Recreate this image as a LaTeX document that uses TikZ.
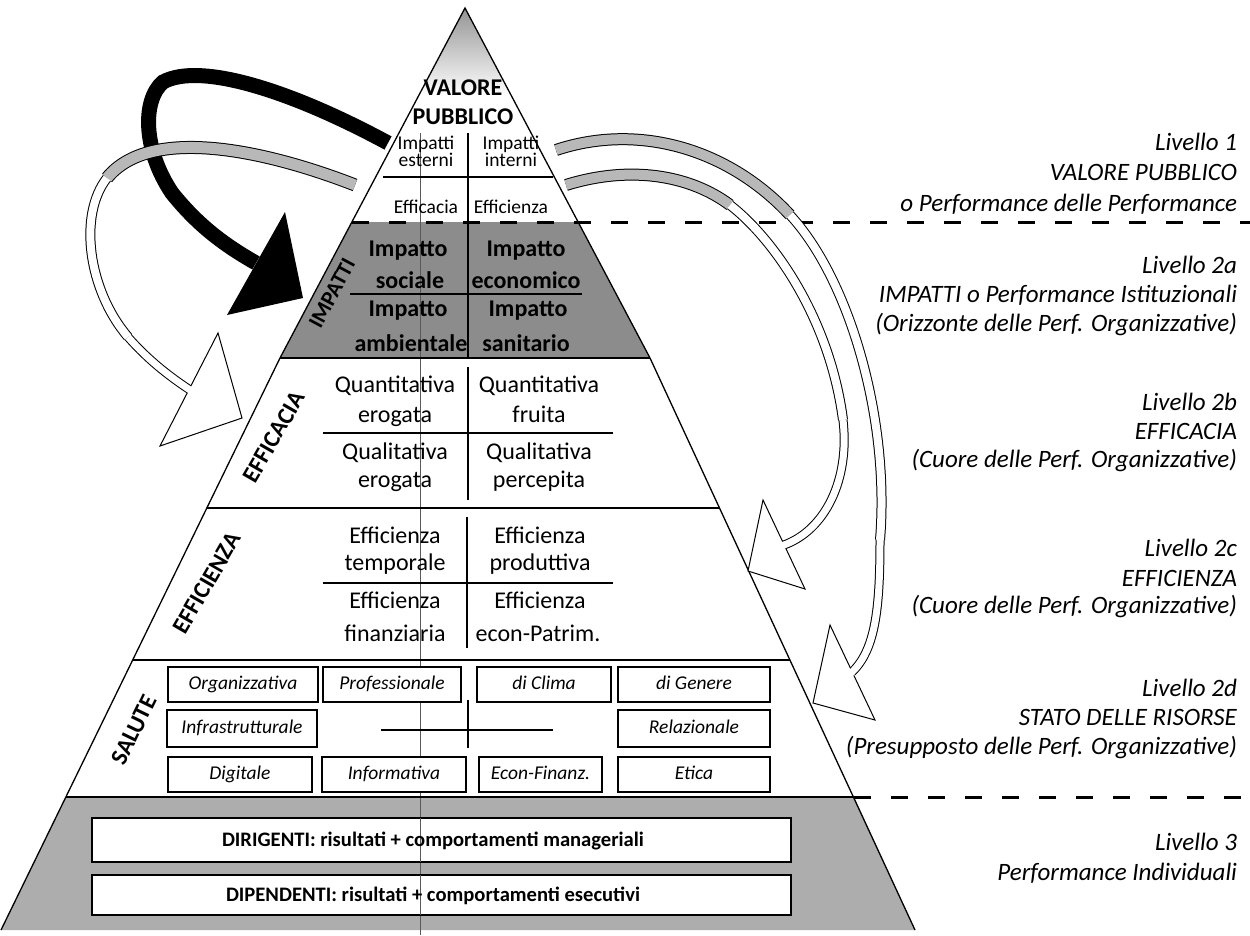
\documentclass[tikz,border=0pt]{standalone}
\usepackage{fontspec}
\setmainfont{Carlito}
\begin{document}
\begin{tikzpicture}[x=1pt,y=-1pt,
  every node/.style={inner sep=0pt,outer sep=0pt},
  t19/.style={font=\fontsize{19.5}{19.5}\selectfont,anchor=base},
  t24/.style={font=\fontsize{24}{24}\selectfont,anchor=base},
  b24/.style={font=\fontsize{24}{24}\selectfont\bfseries,anchor=base},
  side/.style={font=\fontsize{25}{25}\selectfont\itshape,anchor=base east},
  vlab/.style={font=\fontsize{24}{24}\selectfont\bfseries},
  sbox/.style={draw,line width=1.1pt,fill=white,font=\fontsize{19.5}{19.5}\selectfont\itshape,text height=13pt,text depth=4pt},
  bbox/.style={draw,line width=1.1pt,fill=white,anchor=north west},
  btext/.style={font=\fontsize{20.6}{20.6}\selectfont\bfseries,anchor=base west},
  rule/.style={line width=1.2pt},
  edgeln/.style={line width=1.3pt},
  dashln/.style={line width=3pt,dash pattern=on 17pt off 20pt},
  guide/.style={line width=0.6pt,black!65},
  outl/.style={line width=1pt},
  graybd/.style={black!28},
]
\useasboundingbox (0,0) rectangle (1250,935);
% pyramid corners
\coordinate (apex) at (465,8);
\coordinate (lk) at (280,358);
\coordinate (rk) at (650,358);
\coordinate (lb) at (1,930);
\coordinate (rb) at (915,930);
% fills
\shade[top color=black!42,bottom color=white] (apex) -- (418.5,96) -- (511.5,96) -- cycle;
\fill[black!45] (351.9,222) -- (578.1,222) -- (rk) -- (lk) -- cycle;
\fill[black!32] (65.9,797) -- (854.1,797) -- (rb) -- (lb) -- cycle;
% guide line
\draw[guide] (420,133) -- (420,935);
% outline
\draw[edgeln] (lb) -- (lk) -- (apex) -- (rk) -- (rb);
% layer boundaries
\draw[rule] (lk) -- (rk);
\draw[rule] (206.8,508) -- (719.7,508);
\draw[rule] (132.7,660) -- (790.4,660);
\draw[line width=2.5pt] (65.9,797) -- (854.1,797);
\draw[dashln] (351.9,222) -- (1250,222);
\draw[dashln] (854.1,797) -- (1250,797);
% inner dividers
\draw[rule] (468,133) -- (468,358);
\draw[rule] (383,177) -- (553,177);
\draw[rule] (350,294) -- (582,294);
\draw[rule] (468,367) -- (468,500);
\draw[rule] (323,433) -- (613,433);
\draw[rule] (467,517) -- (467,648);
\draw[rule] (323,583) -- (613,583);
\draw[rule] (381,730) -- (553,730);
\draw[rule] (468,700) -- (468,748);
% level 1 texts
\node[b24] (v1) at (463,95) {VALORE};
\node[b24] (v2) at (463,124) {PUBBLICO};
\node[t19] (ie1) at (426,149) {Impatti};
\node[t19] (ie2) at (426,166) {esterni};
\node[t19] (ii1) at (511,149) {Impatti};
\node[t19] (ii2) at (511,166) {interni};
\node[t19] (ef1) at (426,213) {Efficacia};
\node[t19] (ef2) at (511,213) {Efficienza};
% impatti
\node[b24] (im1) at (408,256) {Impatto};
\node[b24] (im2) at (410,288) {sociale};
\node[b24] (im3) at (526,256) {Impatto};
\node[b24] (im4) at (526,288) {economico};
\node[b24] (im5) at (408,316) {Impatto};
\node[b24] (im6) at (411,351) {ambientale};
\node[b24] (im7) at (528,316) {Impatto};
\node[b24] (im8) at (526,351) {sanitario};
% efficacia
\node[t24] (q1) at (395,392) {Quantitativa};
\node[t24] (q2) at (395,422) {erogata};
\node[t24] (q3) at (539,392) {Quantitativa};
\node[t24] (q4) at (539,422) {fruita};
\node[t24] (q5) at (395,459) {Qualitativa};
\node[t24] (q6) at (395,487) {erogata};
\node[t24] (q7) at (539,459) {Qualitativa};
\node[t24] (q8) at (539,487) {percepita};
% efficienza
\node[t24] (e1) at (395,543) {Efficienza};
\node[t24] (e2) at (395,570) {temporale};
\node[t24] (e3) at (540,543) {Efficienza};
\node[t24] (e4) at (540,570) {produttiva};
\node[t24] (e5) at (395,608) {Efficienza};
\node[t24] (e6) at (395,641) {finanziaria};
\node[t24] (e7) at (540,608) {Efficienza};
\node[t24] (e8) at (538,641) {econ-Patrim.};
% rotated labels
\node[vlab,font=\fontsize{22}{22}\selectfont\bfseries,rotate=62] (lImp) at (332,293) {IMPATTI};
\node[vlab,rotate=60] (lEfc) at (274,437) {EFFICACIA};
\node[vlab,rotate=60] (lEfz) at (207,583) {EFFICIENZA};
\node[vlab,rotate=64] (lSal) at (134,730) {SALUTE};
% salute boxes
\node[sbox,minimum width=150,minimum height=35] (s1) at (243,684.5) {Organizzativa};
\node[sbox,minimum width=138,minimum height=35] (s2) at (392,684.5) {Professionale};
\node[sbox,minimum width=134,minimum height=35] (s3) at (544,684.5) {di Clima};
\node[sbox,minimum width=152,minimum height=35] (s4) at (694,684.5) {di Genere};
\node[sbox,minimum width=150,minimum height=37] (s5) at (242,728.5) {Infrastrutturale};
\node[sbox,minimum width=152,minimum height=37] (s6) at (694,728.5) {Relazionale};
\node[sbox,minimum width=144,minimum height=35] (s7) at (240,774.5) {Digitale};
\node[sbox,minimum width=144,minimum height=35] (s8) at (394,774.5) {Informativa};
\node[sbox,minimum width=123,minimum height=35] (s9) at (540.5,774.5) {Econ-Finanz.};
\node[sbox,minimum width=152,minimum height=35] (s10) at (694,774.5) {Etica};
% bottom boxes
\node[bbox,minimum width=699,minimum height=44] (d1) at (92,818) {};
\node[bbox,minimum width=699,minimum height=40] (d2) at (92,875) {};
\draw[guide] (420,818) -- (420,862);
\draw[guide] (420,875) -- (420,915);
\node[btext] (d1t) at (222,846) {DIRIGENTI: risultati + comportamenti manageriali};
\node[btext] (d2t) at (226,901) {DIPENDENTI: risultati + comportamenti esecutivi};
% right labels
\node[side] (r1a) at (1237,150) {Livello 1};
\node[side] (r1b) at (1237,180) {VALORE PUBBLICO};
\node[side] (r1c) at (1237,211) {o Performance delle Performance};
\node[side] (r2a) at (1237,273) {Livello 2a};
\node[side] (r2b) at (1237,302) {IMPATTI o Performance Istituzionali};
\node[side] (r2c) at (1237,331) {(Orizzonte delle Perf. Organizzative)};
\node[side] (r3a) at (1237,410) {Livello 2b};
\node[side] (r3b) at (1237,439) {EFFICACIA};
\node[side] (r3c) at (1237,467) {(Cuore delle Perf. Organizzative)};
\node[side] (r4a) at (1237,556) {Livello 2c};
\node[side] (r4b) at (1237,586) {EFFICIENZA};
\node[side] (r4c) at (1237,613) {(Cuore delle Perf. Organizzative)};
\node[side] (r5a) at (1237,696) {Livello 2d};
\node[side] (r5b) at (1237,725) {STATO DELLE RISORSE};
\node[side] (r5c) at (1237,754) {(Presupposto delle Perf. Organizzative)};
\node[side] (r6a) at (1237,850) {Livello 3};
\node[side] (r6b) at (1237,880) {Performance Individuali};
% ---------- black arrow
\coordinate (bk0) at (388,143);
\coordinate (bk1) at (256,263);
\draw[line width=15pt] (bk0) .. controls (290,90) and (200,62) .. (163,82) .. controls (142,100) and (143,150) .. (172,193) .. controls (200,228) and (228,247) .. (bk1);
\fill (285,212) -- (303,298) -- (227,315) -- cycle;
% ---------- grey left arrow
\coordinate (g0) at (355,185);
\coordinate (gm1) at (107,178);
\coordinate (gm2) at (128,337);
\coordinate (g1) at (190,390);
\draw[line width=13pt] (g0) .. controls (265,150) and (150,125) .. (gm1);
\draw[line width=10pt] (gm1) .. controls (78,215) and (88,290) .. (gm2);
\draw[line width=9pt] (gm2) .. controls (150,362) and (172,378) .. (g1);
\filldraw[fill=white,outl] (218,333) -- (242,418) -- (160,446) -- cycle;
\draw[line width=11pt,graybd] (g0) .. controls (265,150) and (150,125) .. (gm1);
\draw[line width=8pt,white] (gm1) .. controls (78,215) and (88,290) .. (gm2);
\draw[line width=7pt,white] (gm2) .. controls (150,362) and (172,378) .. (g1) -- ++(3.3,2.2);
% ---------- right outer arrow
\coordinate (a0) at (556,150);
\coordinate (am1) at (790,215);
\coordinate (am2) at (880,540);
\coordinate (a1) at (852,672);
\draw[line width=12pt] (a0) .. controls (640,122) and (730,150) .. (am1);
\draw[line width=10pt] (am1) .. controls (850,280) and (890,420) .. (am2);
\draw[line width=9pt] (am2) .. controls (880,610) and (875,650) .. (a1);
\filldraw[fill=white,outl] (830,625) -- (813,703) -- (875,720) -- cycle;
\draw[line width=10pt,graybd] (a0) .. controls (640,122) and (730,150) .. (am1);
\draw[line width=8pt,white] (am1) .. controls (850,280) and (890,420) .. (am2);
\draw[line width=7pt,white] (am2) .. controls (880,610) and (875,650) .. (a1) -- ++(-3,2.9);
% ---------- right inner arrow
\coordinate (b0) at (566,185);
\coordinate (bm1) at (730,205);
\coordinate (bm2) at (843,420);
\coordinate (b1) at (784,545);
\draw[line width=12pt] (b0) .. controls (630,165) and (690,175) .. (bm1);
\draw[line width=10pt] (bm1) .. controls (775,240) and (830,320) .. (bm2);
\draw[line width=9pt] (bm2) .. controls (850,480) and (825,530) .. (b1);
\filldraw[fill=white,outl] (763,500) -- (748,571) -- (805,589) -- cycle;
\draw[line width=10pt,graybd] (b0) .. controls (630,165) and (690,175) .. (bm1);
\draw[line width=8pt,white] (bm1) .. controls (775,240) and (830,320) .. (bm2);
\draw[line width=7pt,white] (bm2) .. controls (850,480) and (825,530) .. (b1) -- ++(-3.8,1.4);
\end{tikzpicture}
\end{document}
